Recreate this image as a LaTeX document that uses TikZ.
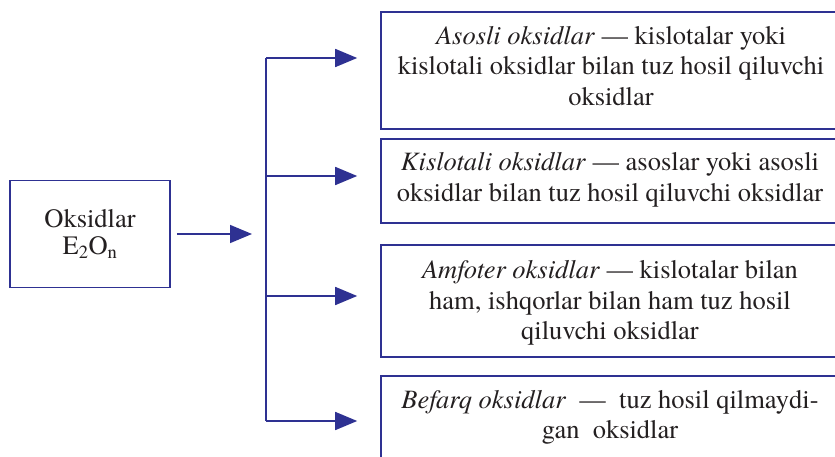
\documentclass[tikz,border=0pt]{standalone}
\usepackage{fontspec}
\setmainfont{texgyretermes}[Extension=.otf, UprightFont=*-regular, ItalicFont=*-italic, BoldFont=*-bold, BoldItalicFont=*-bolditalic]
\usepackage{xcolor}
\usepackage{tikz}
\usetikzlibrary{arrows.meta,positioning,calc}
\definecolor{oxblue}{RGB}{46,49,146}
\definecolor{oxtext}{RGB}{35,31,32}

\begin{document}
\begin{tikzpicture}[x=1pt,y=-1pt,
    box/.style={draw=oxblue, line width=1.6pt, minimum width=459pt, inner sep=0pt},
    txt/.style={align=center, text=oxtext, font=\fontsize{26.5}{30.5}\selectfont, inner sep=0pt},
    link/.style={draw=oxblue, line width=1.6pt},
    arr/.style={link, -{Triangle[length=22pt,width=18pt]}}]
    \useasboundingbox (0,0) rectangle (835,457);
    \clip (0,0) rectangle (835,457);

    \node[box, txt, minimum width=160pt, minimum height=107pt] (oks) at (90,234) {Oksidlar\\[-3pt]E\textsubscript{2}O\textsubscript{n}};

    \node[box, minimum height=117pt] (asos) at (610.5,70.5) {};
    \node[box, minimum height=84pt] (kisl) at (610.5,181) {};
    \node[box, minimum height=112pt] (amf) at (610.5,301) {};
    \node[box, minimum height=100pt] (bef) at (610.5,426) {};

    \node[txt, anchor=base] (asost) at (611,105.5) {\textit{Asosli oksidlar} — kislotalar yoki\\kislotali oksidlar bilan tuz hosil qiluvchi\\oksidlar};
    \node[txt, anchor=base] (kislt) at (610,201.5) {\textit{Kislotali oksidlar} — asoslar yoki asosli\\oksidlar bilan tuz hosil qiluvchi oksidlar};
    \node[txt, anchor=base] (amft) at (610,339.5) {\textit{Amfoter oksidlar} — kislotalar bilan\\ham, ishqorlar bilan ham tuz hosil\\qiluvchi oksidlar};
    \node[txt, anchor=base] (beft) at (610,438.5) {\textit{Befarq oksidlar}\ \ —\ \ tuz hosil qilmaydi-\\gan\ \ oksidlar};

    \coordinate (hub) at (252,234);
    \coordinate (bustop) at (266,58);
    \coordinate (busbot) at (266,421);
    \draw[arr] ([xshift=6pt]oks.east) -- (hub);
    \draw[link] (bustop) -- (busbot);
    \foreach \y/\b in {58/asos,176/kisl,296/amf,421/bef}
        \draw[arr] (bustop |- 0,\y) -- ([xshift=-23pt]\b.west |- 0,\y);
\end{tikzpicture}
\end{document}
